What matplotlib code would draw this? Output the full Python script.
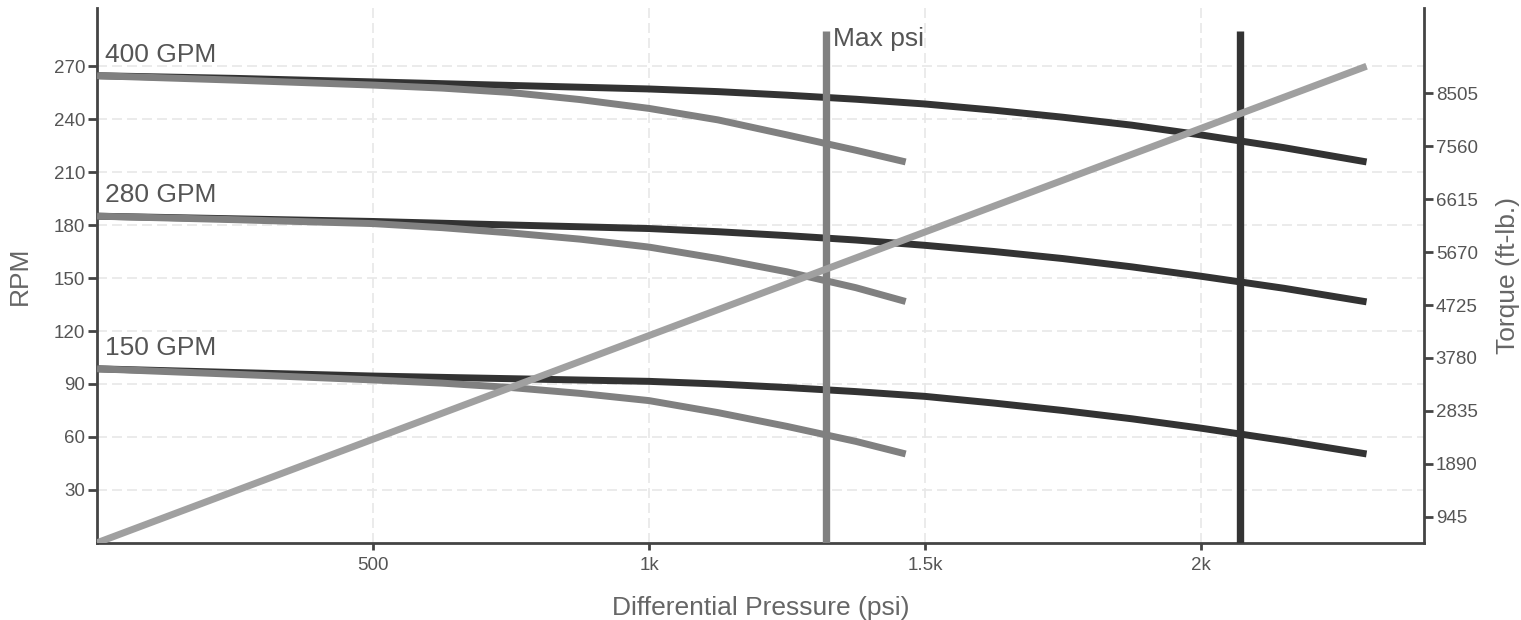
import matplotlib
matplotlib.use("Agg")
import matplotlib.pyplot as plt

plt.rcParams['font.family'] = ['Liberation Sans', 'DejaVu Sans']

# pressure points (psi)
psi_full = [0, 250, 500, 750, 1000, 1125, 1250, 1375, 1500, 1625, 1750,
            1875, 2000, 2150, 2300]
psi_short = [0, 250, 500, 625, 750, 875, 1000, 1125, 1250, 1375, 1465]

# RPM curves, full range (dark)
rpm_400_dark = [264.5, 263, 261, 259, 257, 255.5, 253.5, 251.2, 248.5, 245,
                241, 236.5, 231, 223.8, 215.7]
rpm_280_dark = [185, 183.5, 182, 180, 178, 176.2, 174, 171.5, 168.5, 165,
                161, 156.3, 151, 144.2, 136.5]
rpm_150_dark = [98.6, 96.5, 94.5, 93, 91.5, 90, 88, 85.7, 83, 79.2,
                75, 70.3, 65, 58, 50.4]

# RPM curves, short range (gray)
rpm_400_gray = [264.5, 262, 259.2, 257.5, 255, 251, 246, 239.5, 231, 222.3, 215.7]
rpm_280_gray = [185, 183, 180.8, 178.5, 175.5, 172, 167.5, 161, 153.5, 144.5, 136.7]
rpm_150_gray = [98.6, 95.5, 92.3, 90.5, 88, 84.7, 80.6, 73.8, 66, 57.5, 50.4]

flow_labels = ["400 GPM", "280 GPM", "150 GPM"]

# torque line
torque_psi = [0, 2300]
torque_vals = [480, 8990]

# vertical limit lines
max_psi_gray = 1320
max_psi_dark = 2071
vline_top = 290

x_ticks = [500, 1000, 1500, 2000]
x_tick_labels = ["500", "1k", "1.5k", "2k"]
rpm_ticks = [30, 60, 90, 120, 150, 180, 210, 240, 270]
torque_ticks = [945, 1890, 2835, 3780, 4725, 5670, 6615, 7560, 8505]

DARK = "#333333"
GRAY = "#808080"
LIGHT = "#a0a0a0"
AXIS = "#444444"
TEXT = "#555555"

fig = plt.figure(figsize=(15.21, 6.2), dpi=100)
ax = fig.add_axes([0.0638, 0.1242, 0.8724, 0.8628])
ax2 = ax.twinx()

lw = 5
for ys in [rpm_400_dark, rpm_280_dark, rpm_150_dark]:
    ax.plot(psi_full, ys, color=DARK, lw=lw, solid_capstyle='butt',
            solid_joinstyle='round', zorder=3)
for ys in [rpm_400_gray, rpm_280_gray, rpm_150_gray]:
    ax.plot(psi_short, ys, color=GRAY, lw=lw, solid_capstyle='butt',
            solid_joinstyle='round', zorder=4)

ax.plot([max_psi_gray, max_psi_gray], [0, vline_top], color=GRAY, lw=5.3,
        solid_capstyle='butt', zorder=5)
ax.plot([max_psi_dark, max_psi_dark], [0, vline_top], color=DARK, lw=5.3,
        solid_capstyle='butt', zorder=5)
ax.text(max_psi_gray + 14, 281.3, "Max psi", fontsize=19, color=TEXT,
        va='baseline', ha='left', zorder=6)

for lab, ys in zip(flow_labels, [rpm_400_dark, rpm_280_dark, rpm_150_dark]):
    ax.text(15, ys[0] + 8, lab, fontsize=19, color=TEXT, va='baseline', ha='left')

ax2.plot(torque_psi, torque_vals, color=LIGHT, lw=5, solid_capstyle='butt')

ax.set_xlim(0, 2404)
ax.set_ylim(0, 302.8)
ax2.set_ylim(476, 10029)

ax.set_xticks(x_ticks)
ax.set_xticklabels(x_tick_labels)
ax.set_yticks(rpm_ticks)
ax2.set_yticks(torque_ticks)

ax.grid(True, color="#e8e8e8", linestyle=(0, (6, 3)), lw=1.2)
ax.set_axisbelow(True)

for a in (ax, ax2):
    a.spines['top'].set_visible(False)
    for s in ['left', 'right', 'bottom']:
        a.spines[s].set_color(AXIS)
        a.spines[s].set_linewidth(2)
ax.spines['right'].set_visible(False)
ax2.spines['left'].set_visible(False)
ax2.spines['bottom'].set_visible(False)

ax.tick_params(axis='x', direction='out', length=5, width=2, color=AXIS,
               labelcolor=TEXT, labelsize=13.5, pad=5)
ax.tick_params(axis='y', direction='out', length=6.5, width=2, color=AXIS,
               labelcolor=TEXT, labelsize=13.5, pad=2)
ax2.tick_params(axis='y', direction='out', length=6.5, width=2, color=AXIS,
                labelcolor=TEXT, labelsize=13.5, pad=2)

ax.set_xlabel("Differential Pressure (psi)", fontsize=19, color="#666666", labelpad=16)
ax.set_ylabel("RPM", fontsize=19, color="#666666", labelpad=16)
ax2.set_ylabel("Torque (ft-lb.)", fontsize=19, color="#666666", labelpad=13)

fig.savefig("out.png", dpi=100)
